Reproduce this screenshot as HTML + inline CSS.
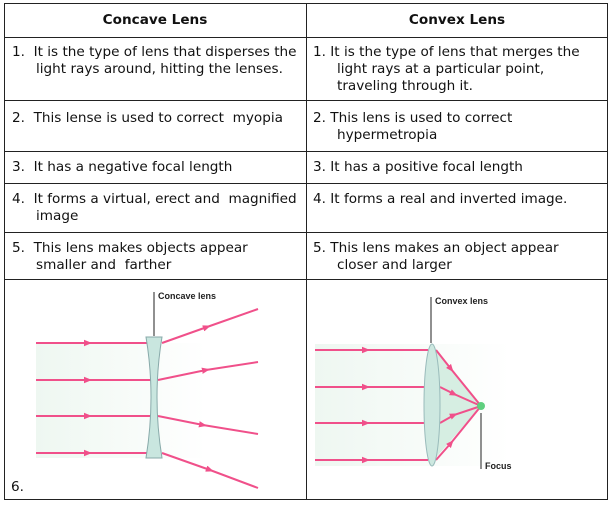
<!DOCTYPE html>
<html><head><meta charset="utf-8"><style>
*{margin:0;padding:0;box-sizing:border-box}
body{width:612px;height:505px;background:#fff;position:relative;font-family:"DejaVu Sans",Verdana,sans-serif;font-size:13.6px;color:#111;overflow:hidden}
.t{position:absolute;line-height:17px;white-space:nowrap}
.h{font-weight:bold;text-align:center;width:302px}
.ln{position:absolute;background:#222}
</style></head><body>
<div class="ln" style="left:4px;top:3px;width:604px;height:1px"></div>
<div class="ln" style="left:4px;top:37px;width:604px;height:1px"></div>
<div class="ln" style="left:4px;top:100px;width:604px;height:1px"></div>
<div class="ln" style="left:4px;top:151px;width:604px;height:1px"></div>
<div class="ln" style="left:4px;top:183px;width:604px;height:1px"></div>
<div class="ln" style="left:4px;top:232px;width:604px;height:1px"></div>
<div class="ln" style="left:4px;top:279px;width:604px;height:1px"></div>
<div class="ln" style="left:4px;top:499px;width:604px;height:1px"></div>
<div class="ln" style="left:4px;top:3px;width:1px;height:497px"></div>
<div class="ln" style="left:306px;top:3px;width:1px;height:497px"></div>
<div class="ln" style="left:607px;top:3px;width:1px;height:497px"></div>

<div class="t h" style="left:4px;top:12px">Concave Lens</div>
<div class="t h" style="left:306px;top:12px">Convex Lens</div>

<div class="t" style="left:12px;top:44px">1.&nbsp; It is the type of lens that disperses the</div>
<div class="t" style="left:36px;top:61px">light rays around, hitting the lenses.</div>
<div class="t" style="left:12px;top:110px">2.&nbsp; This lense is used to correct&nbsp; myopia</div>
<div class="t" style="left:12px;top:159px">3.&nbsp; It has a negative focal length</div>
<div class="t" style="left:12px;top:191px">4.&nbsp; It forms a virtual, erect and&nbsp; magnified</div>
<div class="t" style="left:36px;top:208px">image</div>
<div class="t" style="left:12px;top:240px">5.&nbsp; This lens makes objects appear</div>
<div class="t" style="left:36px;top:257px">smaller and&nbsp; farther</div>
<div class="t" style="left:11px;top:479px">6.</div>

<div class="t" style="left:313px;top:44px">1. It is the type of lens that merges the</div>
<div class="t" style="left:337px;top:61px">light rays at a particular point,</div>
<div class="t" style="left:337px;top:78px">traveling through it.</div>
<div class="t" style="left:313px;top:110px">2. This lens is used to correct</div>
<div class="t" style="left:337px;top:127px">hypermetropia</div>
<div class="t" style="left:313px;top:159px">3. It has a positive focal length</div>
<div class="t" style="left:313px;top:191px">4. It forms a real and inverted image.</div>
<div class="t" style="left:313px;top:240px">5. This lens makes an object appear</div>
<div class="t" style="left:337px;top:257px">closer and larger</div>

<svg style="position:absolute;left:0;top:0" width="612" height="505">
<defs>
<marker id="a" viewBox="0 0 10 10" refX="5" refY="5" markerWidth="4" markerHeight="4" orient="auto"><path d="M0,1L10,5L0,9z" fill="#f0508a"/></marker>
<linearGradient id="g" x1="0" x2="1"><stop offset="0" stop-color="#eef7f1"/><stop offset="1" stop-color="#fff"/></linearGradient>
</defs>
<g font-family="Liberation Sans,Arial,sans-serif" font-weight="bold" font-size="9px" fill="#222">
<rect x="36" y="343" width="170" height="115" fill="url(#g)"/>
<g stroke="#f0508a" stroke-width="2" fill="none">
<path d="M36,343L88,343L148,343" marker-mid="url(#a)"/>
<path d="M36,380L88,380L152,380" marker-mid="url(#a)"/>
<path d="M36,416L88,416L152,416" marker-mid="url(#a)"/>
<path d="M36,453L88,453L148,453" marker-mid="url(#a)"/>
<path d="M162,343L207,327L258,309" marker-mid="url(#a)"/>
<path d="M158,380L206,370L258,362" marker-mid="url(#a)"/>
<path d="M158,416L203,425L258,434" marker-mid="url(#a)"/>
<path d="M162,453L210,470L258,488" marker-mid="url(#a)"/>
</g>
<path d="M146,337L162,337Q152,397 162,458L146,458Q156,397 146,337z" fill="#c9e6df" stroke="#8aa" stroke-width="1"/>
<line x1="154" y1="292" x2="154" y2="336" stroke="#222"/>
<text x="158" y="299">Concave lens</text>

<rect x="315" y="344" width="195" height="122" fill="url(#g)"/>
<path d="M432,346L481,406L432,462z" fill="#d6eee2"/>
<g stroke="#f0508a" stroke-width="2" fill="none">
<path d="M315,350L366,350L428,350" marker-mid="url(#a)"/>
<path d="M315,387L366,387L425,387" marker-mid="url(#a)"/>
<path d="M315,423L366,423L425,423" marker-mid="url(#a)"/>
<path d="M315,460L366,460L428,460" marker-mid="url(#a)"/>
<path d="M436,350L451,369L481,406" marker-mid="url(#a)"/>
<path d="M440,387L454,394L481,406" marker-mid="url(#a)"/>
<path d="M440,423L454,415L481,406" marker-mid="url(#a)"/>
<path d="M436,460L451,443L481,406" marker-mid="url(#a)"/>
</g>
<ellipse cx="432" cy="405" rx="8" ry="61" fill="#cde8e0" stroke="#9bb" stroke-width="1"/>
<circle cx="481" cy="406" r="4" fill="#5fcf7f"/>
<line x1="431" y1="297" x2="431" y2="343" stroke="#222"/>
<text x="435" y="304">Convex lens</text>
<line x1="481" y1="413" x2="481" y2="469" stroke="#222"/>
<text x="485" y="469">Focus</text>
</g>
</svg>
</body></html>
